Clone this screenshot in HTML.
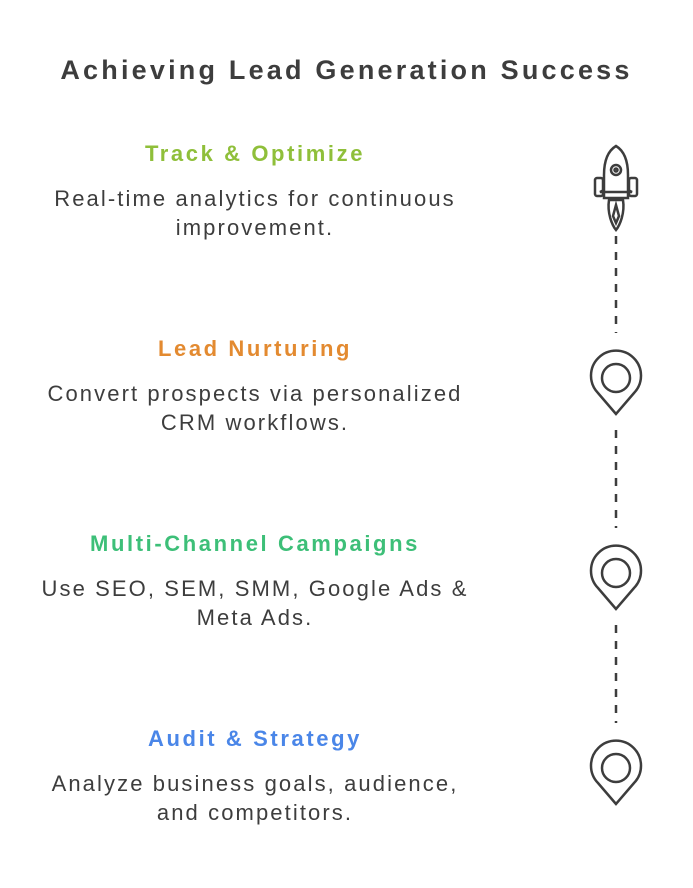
<!DOCTYPE html>
<html><head><style>
body{margin:0;width:693px;height:888px;background:#fff;font-family:"Liberation Sans",sans-serif;position:relative;overflow:hidden}
.t{position:absolute;left:0;width:693px;text-align:center;font-weight:bold;font-size:27px;color:#3d3d3d;top:55px;letter-spacing:3.2px}
.h{position:absolute;left:0;width:510px;text-align:center;font-weight:bold;font-size:22px;letter-spacing:2.6px}
.b{position:absolute;left:0;width:510px;text-align:center;font-size:22px;color:#3d3d3d;line-height:29px;letter-spacing:2.1px}
svg{position:absolute;left:0;top:0}
</style></head><body>
<div class="t">Achieving Lead Generation Success</div>
<div class="h" style="top:141px;color:#8fbf3a">Track &amp; Optimize</div>
<div class="b" style="top:184px">Real-time analytics for continuous<br>improvement.</div>
<div class="h" style="top:336px;color:#e38a30">Lead Nurturing</div>
<div class="b" style="top:379px">Convert prospects via personalized<br>CRM workflows.</div>
<div class="h" style="top:531px;color:#3dbf78">Multi-Channel Campaigns</div>
<div class="b" style="top:574px">Use SEO, SEM, SMM, Google Ads &amp;<br>Meta Ads.</div>
<div class="h" style="top:726px;color:#4a86e8">Audit &amp; Strategy</div>
<div class="b" style="top:769px">Analyze business goals, audience,<br>and competitors.</div>
<svg width="693" height="888" fill="none" stroke="#3d3d3d" stroke-width="2.5">
<g stroke-dasharray="8,8">
<line x1="616" y1="236" x2="616" y2="333"/>
<line x1="616" y1="430" x2="616" y2="528"/>
<line x1="616" y1="625" x2="616" y2="723"/>
</g>
<g id="p">
<path d="M616 414 L598 393 A25 25 0 1 1 634 393 Z"/>
<circle cx="616" cy="378" r="14"/>
</g>
<use href="#p" y="195"/>
<use href="#p" y="390"/>
<path d="M616 146 C606 152 604 165 604 175 L604 198 L628 198 L628 175 C628 165 626 152 616 146 Z"/>
<circle cx="616" cy="170" r="5"/><circle cx="616" cy="170" r="1.5"/>
<path d="M604 190 L600 192 L632 192 L628 190"/>
<rect x="595" y="178" width="8" height="18" rx="2"/>
<rect x="629" y="178" width="8" height="18" rx="2"/>
<path d="M609 200 C607 213 612 225 616 230 C620 225 625 213 623 200 Z"/>
<path d="M616 205 L613 216 L616 223 L619 216 Z"/>
</svg>
</body></html>
